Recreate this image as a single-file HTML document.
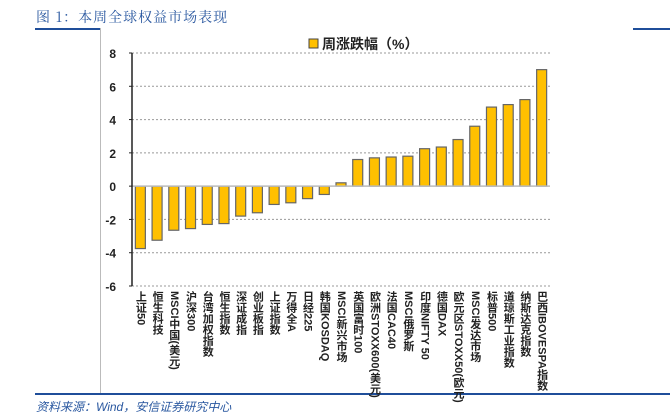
<!DOCTYPE html>
<html><head><meta charset="utf-8"><style>
body{margin:0;width:670px;height:417px;background:#fff;position:relative;overflow:hidden;font-family:"Liberation Sans","Noto Sans CJK SC",sans-serif}
.t{position:absolute;left:36px;top:7px;font-size:14px;color:#2a58a0;font-family:"Noto Serif CJK SC","Liberation Serif",serif;letter-spacing:1px}
.lab{position:absolute;top:291px;writing-mode:vertical-rl;font-size:11px;font-weight:bold;color:#222;line-height:12px;white-space:nowrap}
.foot{position:absolute;left:36px;top:398px;font-size:12px;font-style:italic;color:#2a58a0}
</style></head><body>
<div class="t">图 1：本周全球权益市场表现</div>
<div style="position:absolute;left:35px;top:28px;width:65px;height:2px;background:#1f4e9a"></div>
<div style="position:absolute;left:633px;top:28px;width:37px;height:2px;background:#1f4e9a"></div>
<div style="position:absolute;left:100px;top:28px;width:1px;height:366px;background:#bbb"></div>
<div style="position:absolute;left:35px;top:393px;width:635px;height:2px;background:#1f4e9a"></div>
<div class="foot">资料来源：Wind，安信证券研究中心</div>
<svg id="c" width="670" height="417" style="position:absolute;left:0;top:0"></svg>
<div id="labs"></div>
<script>
const categories=["上证50","恒生科技","MSCI中国(美元)","沪深300","台湾加权指数","恒生指数","深证成指","创业板指","上证指数","万得全A","日经225","韩国KOSDAQ","MSCI新兴市场","英国富时100","欧洲STOXX600(美元)","法国CAC40","MSCI俄罗斯","印度NIFTY 50","德国DAX","欧元区STOXX50(欧元)","MSCI发达市场","标普500","道琼斯工业指数","纳斯达克指数","巴西IBOVESPA指数"];
const values=[-3.75,-3.25,-2.65,-2.55,-2.3,-2.25,-1.8,-1.6,-1.1,-1.0,-0.75,-0.5,0.2,1.6,1.7,1.75,1.8,2.25,2.35,2.8,3.6,4.75,4.9,5.2,7.0];
const ticks=[8,6,4,2,0,-2,-4,-6];
const ns="http://www.w3.org/2000/svg",svg=document.getElementById('c');
const x0=132,x1=550,yTop=53,yBot=286,vMax=8,vMin=-6;
const y=v=>yTop+(vMax-v)*(yBot-yTop)/(vMax-vMin);
const slot=(x1-x0)/categories.length;
function mk(t,a){const e=document.createElementNS(ns,t);for(const k in a)e.setAttribute(k,a[k]);svg.appendChild(e);return e;}
ticks.forEach(t=>{
 if(t!==0){const g=mk('line',{x1:x0,x2:x1,y1:y(t),y2:y(t),stroke:'#999','stroke-dasharray':'2,2','stroke-width':1});
 }
 const tx=mk('text',{x:116,y:y(t)+5,'text-anchor':'end','font-size':12,'font-weight':'bold',fill:'#222','font-family':'Liberation Sans'});
 tx.textContent=t;
 
 
 const tk=mk('line',{x1:x0-3,x2:x0,y1:y(t),y2:y(t),stroke:'#222','stroke-width':1});
 
 
});
const labs=document.getElementById('labs');
values.forEach((v,i)=>{
 const cx=x0+slot*(i+0.5),bw=10;
 const r=mk('rect',{x:cx-bw/2,y:Math.min(y(v),y(0)),width:bw,height:Math.abs(y(v)-y(0)),fill:'#ffc000',stroke:'#666','stroke-width':1.2});
 
 
 const d=document.createElement('div');d.className='lab';d.style.left=(cx-6)+'px';d.textContent=categories[i];
 
 
 labs.appendChild(d);
});
const za=mk('line',{x1:x0,x2:x1,y1:y(0),y2:y(0),stroke:'#bbb','stroke-width':1.5});

const ya=mk('line',{x1:x0,x2:x0,y1:yTop,y2:yBot,stroke:'#222','stroke-width':1.5});

const lg=mk('rect',{x:309,y:39,width:9,height:9,fill:'#ffc000',stroke:'#444','stroke-width':1});

const lt=mk('text',{x:322,y:49,'font-size':14,'font-weight':'bold',fill:'#222','font-family':'Liberation Sans, Noto Sans CJK SC, sans-serif'});
lt.textContent='周涨跌幅（%）';

</script>
</body></html>
